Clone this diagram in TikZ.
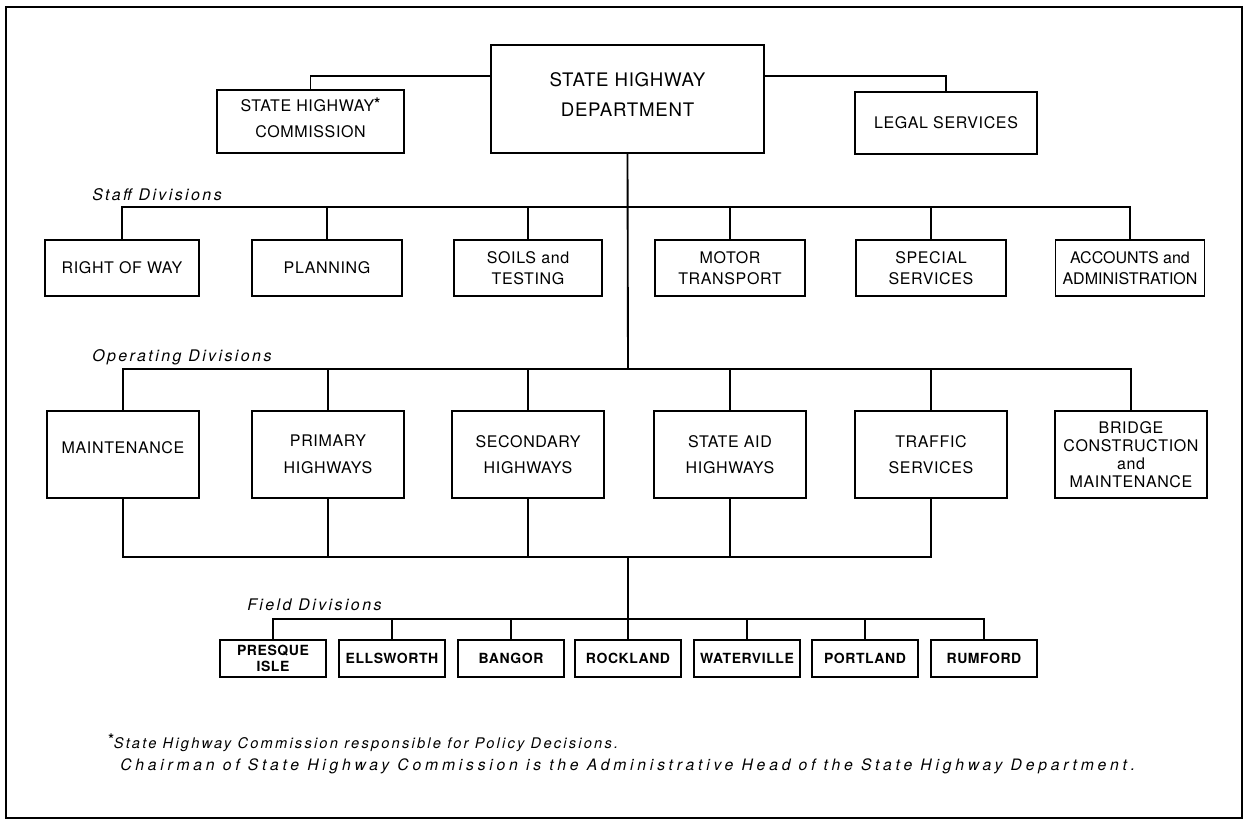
\documentclass[tikz,border=0pt]{standalone}
\usepackage{fontspec}
\setmainfont{TeX Gyre Heros}
\newfontfamily\boxf{TeX Gyre Heros}[LetterSpace=4]
\newfontfamily\tightf{TeX Gyre Heros}[LetterSpace=0]
\newfontfamily\labf{TeX Gyre Heros}[LetterSpace=15]
\newfontfamily\wlabf{TeX Gyre Heros}[LetterSpace=24]
\usetikzlibrary{calc}
\begin{document}
\begin{tikzpicture}[x=0.75pt,y=-0.75pt,
  ln/.style={line width=1.4pt},
  bx/.style={draw, line width=1.3pt, inner sep=0pt, align=center, font=\boxf\fontsize{12}{16}\selectfont},
  sz/.style 2 args={minimum width=#1*0.75pt, minimum height=#2*0.75pt},
  tx/.style={inner sep=0pt, align=center, font=\boxf\fontsize{12}{19}\selectfont},
  sbox/.style={bx, sz={150}{56}},
  obox/.style={bx, sz={152}{87}, font=\boxf\fontsize{12}{20}\selectfont},
  fbox/.style={bx, sz={106}{37}, font=\boxf\bfseries\fontsize{10.5}{12}\selectfont},
  lab/.style={anchor=west, inner sep=0pt, font=\labf\itshape\fontsize{12}{13}\selectfont},
  note/.style={anchor=west, inner sep=0pt, font=\labf\itshape\fontsize{11}{12}\selectfont},
  wnote/.style={anchor=west, inner sep=0pt, font=\wlabf\itshape\fontsize{11.8}{12}\selectfont},
]
\useasboundingbox (0,0) rectangle (1246,822);
\draw[line width=1.1pt] (6,7) rectangle (1242,818);

% top level
\node[bx, sz={273}{108}, label={[tx, font=\boxf\fontsize{14}{22.5}\selectfont, yshift=3pt]center:STATE HIGHWAY\\DEPARTMENT}] (shd) at (627.5,99) {};
\node[bx, sz={187}{63}, label={[tx, yshift=3pt]center:STATE HIGHWAY\raisebox{0.15em}{\bfseries *}\\COMMISSION}] (shc) at (310.5,121.5) {};
\node[bx, sz={182}{62}] (legal) at (946,123) {LEGAL SERVICES};
\coordinate (tl) at (491,76);
\coordinate (tr) at (764,76);
\draw[ln] (shc.north) |- (tl);
\draw[ln] (legal.north) |- (tr);

% staff divisions
\node[lab] (lstaff) at (92,195) {Staff Divisions};
\node[sbox, sz={154}{56}] (rw) at (122,268) {RIGHT OF WAY};
\node[sbox] (pl) at (327,268) {PLANNING};
\node[sbox, sz={148}{56}] (st) at (528,268) {SOILS and\\TESTING};
\node[sbox] (mt) at (730,268) {MOTOR\\TRANSPORT};
\node[sbox] (ss) at (931,268) {SPECIAL\\SERVICES};
\node[sbox, sz={149}{56}, font=\tightf\fontsize{12}{16}\selectfont] (aa) at (1130,268) {ACCOUNTS and\\ADMINISTRATION};
\coordinate (sbus) at (628,207);
\draw[ln] (rw.north) |- (sbus) -| (aa.north);
\foreach \n in {pl,st,mt,ss} \draw[ln] (\n.north) -- (\n.north |- sbus);

% operating divisions
\coordinate (obus) at (628,369);
\draw[ln] (shd.south) -- (obus);
\node[lab] (lop) at (92,357) {Operating Divisions};
\node[obox, label={[tx, yshift=5pt]center:MAINTENANCE}] (mn) at (123,454.5) {};
\node[obox] (ph) at (328,454.5) {PRIMARY\\HIGHWAYS};
\node[obox] (sh) at (528,454.5) {SECONDARY\\HIGHWAYS};
\node[obox] (sa) at (730,454.5) {STATE AID\\HIGHWAYS};
\node[obox] (ts) at (931,454.5) {TRAFFIC\\SERVICES};
\node[obox, font=\boxf\fontsize{12}{13.5}\selectfont] (br) at (1131,454.5) {BRIDGE\\CONSTRUCTION\\and\\MAINTENANCE};
\draw[ln] (mn.north) |- (obus) -| (br.north);
\foreach \n in {ph,sh,sa,ts} \draw[ln] (\n.north) -- (\n.north |- obus);
\coordinate (bbus) at (628,557);
\draw[ln] (mn.south) |- (bbus) -| (ts.south);
\foreach \n in {ph,sh,sa} \draw[ln] (\n.south) -- (\n.south |- bbus);

% field divisions
\node[lab] (lfield) at (247,605) {Field Divisions};
\node[fbox] (pi) at (273,658.5) {PRESQUE\\ISLE};
\node[fbox] (el) at (392,658.5) {ELLSWORTH};
\node[fbox] (bg) at (511,658.5) {BANGOR};
\node[fbox] (rk) at (628,658.5) {ROCKLAND};
\node[fbox] (wv) at (747,658.5) {WATERVILLE};
\node[fbox] (pt) at (865,658.5) {PORTLAND};
\node[fbox] (ru) at (984,658.5) {RUMFORD};
\coordinate (fbus) at (628,619);
\draw[ln] (bbus) -- (rk.north);
\draw[ln] (pi.north) |- (fbus) -| (ru.north);
\foreach \n in {el,bg,wv,pt} \draw[ln] (\n.north) -- (\n.north |- fbus);

% footnotes
\node[note] (fn1) at (108,743) {\raisebox{0.3em}{\upshape\bfseries *}State Highway Commission responsible for Policy Decisions.};
\node[wnote] (fn2) at (120,766) {Chairman of State Highway Commission is the Administrative Head of the State Highway Department.};
\end{tikzpicture}
\end{document}
